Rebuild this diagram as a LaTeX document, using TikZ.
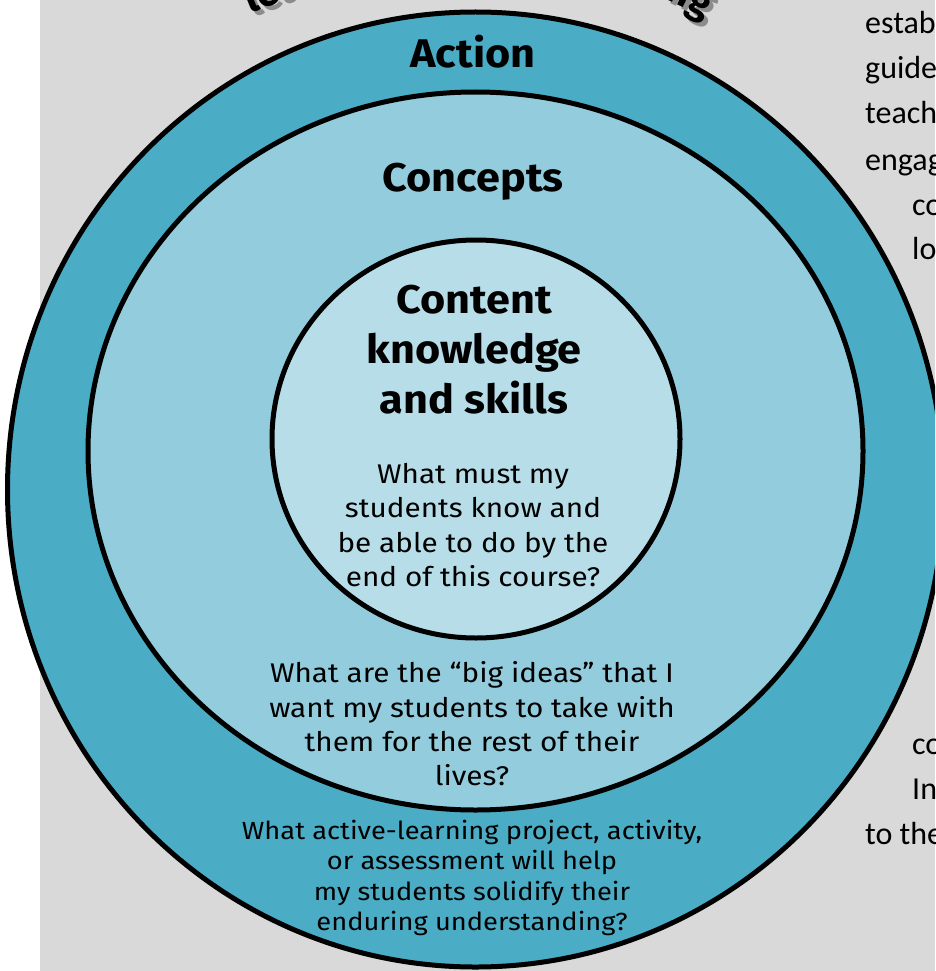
\documentclass[tikz,border=0pt]{standalone}
\usepackage{fontspec}
\setmainfont{Fira Sans}
\newfontfamily\bodyf[FakeStretch=1.1]{Fira Sans}
\newfontfamily\headf[FakeStretch=1.08]{Fira Sans}
\newfontfamily\calib{Carlito}
\definecolor{bggray}{HTML}{D9D9D9}
\definecolor{outerc}{HTML}{4BACC6}
\definecolor{middlec}{HTML}{93CDDD}
\definecolor{innerc}{HTML}{B7DEE8}
\definecolor{shadowc}{HTML}{8C8C8C}
\begin{document}
\begin{tikzpicture}[x=1pt,y=-1pt,
  ring/.style={draw=black,line width=5pt},
  head/.style={font=\headf\bfseries\fontsize{40}{50}\selectfont,align=center,inner sep=0pt},
  body/.style={font=\bodyf\fontsize{27}{34.3}\selectfont,align=center,inner sep=0pt},
  actbody/.style={font=\bodyf\fontsize{24.8}{30.5}\selectfont,align=center,inner sep=0pt},
  side/.style={font=\calib\fontsize{32}{40}\selectfont,anchor=base west,inner sep=0pt},
  arcw/.style={font=\bfseries\fontsize{40}{44}\selectfont,inner sep=0pt}]
\useasboundingbox (0,0) rectangle (935,971);
\clip (0,0) rectangle (935,971);
\fill[white] (0,0) rectangle (935,971);
\fill[bggray] (40,0) rectangle (935,971);
% curved title fragments
\node[arcw,text=shadowc,rotate=22,anchor=base west] (tls) at (254,18) {lea};
\node[arcw,rotate=22,anchor=base west] (tl) at (250,14) {lea};
\node[arcw,text=shadowc,rotate=-26,anchor=base east] (trs) at (709,22) {ng};
\node[arcw,rotate=-26,anchor=base east] (tr) at (705,18) {ng};
% rings
\draw[ring,fill=outerc] (475.5,489.5) ellipse [x radius=468, y radius=477.5];
\draw[ring,fill=middlec] (475.5,451) ellipse [x radius=387.5, y radius=359];
\draw[ring,fill=innerc] (476,439) ellipse [x radius=204, y radius=199];
% headings
\node[head] (action) at (473,52) {Action};
\node[head] (concepts) at (473,182) {Concepts};
\node[head] (content) at (474,350) {Content\\knowledge\\and skills};
% questions
\node[body] (q1) at (473,525) {What must my\\students know and\\be able to do by the\\end of this course?};
\node[body] (q2) at (472,724) {What are the “big ideas” that I\\want my students to take with\\them for the rest of their\\lives?};
\node[actbody] (q3) at (472,878) {What active-learning project, activity,\\or assessment will help\\my students solidify their\\enduring understanding?};
% side text fragments
\node[side] (s1) at (865,34) {establ};
\node[side] (s2) at (865,79) {guides};
\node[side] (s3) at (865,124) {teachi};
\node[side] (s4) at (865,170) {engag};
\node[side] (s5) at (912,215) {con};
\node[side] (s6) at (912,259) {lo};
\node[side] (s7) at (912,754) {con};
\node[side] (s8) at (912,799) {In};
\node[side] (s9) at (865,844) {to the};
\end{tikzpicture}
\end{document}
